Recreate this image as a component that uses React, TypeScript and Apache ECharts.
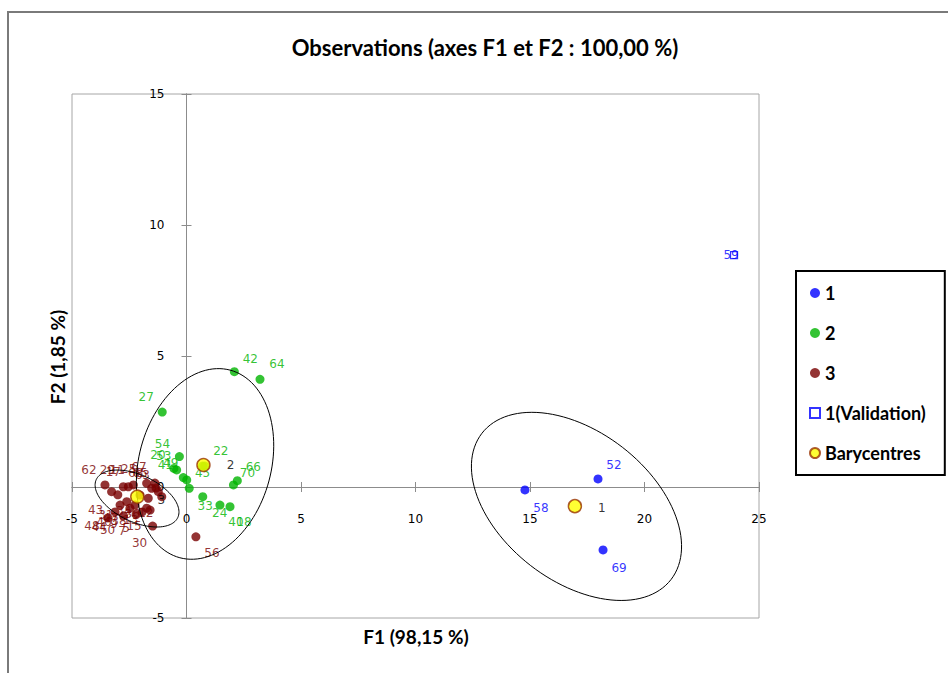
import React, { useEffect, useRef } from 'react';
import * as echarts from 'echarts';

// ---- data ----
const class1Points: [number, number, string][] = [
  [14.78, -0.11, '58'],
  [17.97, 0.31, '52'],
  [18.19, -2.4, '69'],
];

const class2Points: [number, number, string][] = [
  [2.09, 4.4, '42'],
  [3.21, 4.11, '64'],
  [-1.06, 2.86, '27'],
  [-0.31, 1.16, '54'],
  [-0.55, 0.71, '20'],
  [-0.43, 0.65, '53'],
  [-0.14, 0.36, '41'],
  [0.01, 0.27, '49'],
  [0.12, -0.05, '33'],
  [0.71, -0.37, '24'],
  [1.46, -0.69, '40'],
  [1.9, -0.75, '18'],
  [2.05, 0.08, '70'],
  [2.22, 0.24, '66'],
  [0.8, 0.8, '22'],
  [0.7, 0.8, '45'],
];

const class3Points: [number, number, string][] = [
  [-3.56, 0.08, '62'],
  [-2.76, 0.01, '29'],
  [-2.54, 0.01, '17'],
  [-1.74, 0.14, '25'],
  [-1.38, 0.15, '67'],
  [-1.33, -0.04, '65'],
  [-1.23, -0.18, '63'],
  [-3.27, -0.18, '43'],
  [-1.08, -0.37, '12'],
  [-1.48, -1.49, '30'],
  [0.41, -1.9, '56'],
  [-2.9, -0.69, '46'],
  [-1.74, -0.81, '13'],
  [-1.59, -0.88, '15'],
  [-2.47, -0.81, '9'],
  [-2.61, -0.56, '47'],
  [-1.67, -0.43, '36'],
  [-2.32, 0.08, '11'],
  [-1.52, -0.05, '68'],
  [-2.03, -0.31, '34'],
  [-2.25, -0.69, '38'],
  [-1.94, -0.95, '5'],
  [-3.12, -0.95, '44'],
  [-3.43, -1.18, '48'],
  [-2.75, -1.1, '50'],
  [-2.2, -1.05, '7'],
  [-3.0, -0.3, '31'],
];

const validationPoints: [number, number, string][] = [[23.91, 8.85, '59']];

const barycentres: [number, number, string][] = [
  [16.96, -0.73, '1'],
  [0.74, 0.84, '2'],
  [-2.15, -0.37, '3'],
];

// confidence ellipses: centre and two conjugate semi-axes (data units)
const ellipseCentres: [number, number][] = [
  [17.03, -0.74],
  [0.81, 0.88],
  [-2.16, -0.44],
];
const ellipseAxisU: [number, number][] = [
  [4.13, -2.79],
  [1.1, 3.58],
  [1.78, -0.725],
];
const ellipseAxisV: [number, number][] = [
  [-2.0, -2.26],
  [2.79, -0.65],
  [-0.43, -0.81],
];

const xTicks = { min: -5, max: 25, interval: 5 };
const yTicks = { min: -5, max: 15, interval: 5 };

// label placement (pixels, relative to the point)
const labelOffsets: Record<string, [number, number]> = {
  '58': [16, 18], '52': [16, -14], '69': [16, 18],
  '42': [16, -13], '64': [17, -15], '27': [-16, -15], '54': [-17, -13],
  '20': [-16, -13], '53': [-13, -14], '41': [-18, -13], '49': [-16, -17],
  '33': [16, 18], '24': [17, 16], '40': [16, 17], '18': [14, 15],
  '70': [14, -12], '66': [16, -14], '22': [16, -15], '45': [0, 7],
  '62': [-16, -15], '29': [-16, -17], '17': [-15, -15], '25': [-18, -14],
  '67': [-16, -16], '65': [-16, -15], '63': [-16, -17], '43': [-16, 18],
  '12': [-16, 16], '30': [-13, 17], '56': [16, 16], '46': [-16, 17],
  '13': [-16, 12], '15': [-16, 16], '9': [-16, 16], '47': [-16, 16],
  '36': [-16, 16], '11': [-16, -15], '68': [-16, -15], '34': [-16, 16],
  '38': [-16, 16], '5': [-16, 16], '44': [-16, 15], '48': [-16, 8],
  '50': [-16, 14], '7': [-14, 16], '31': [-12, 20],
  '59': [-3, 0],
};
const baryOffsets: [number, number][] = [[27, 2], [27, 0], [24, 3]];

const BLUE = '#0000ff';
const GREEN = '#00b400';
const RED = '#780000';
const LABEL_FONT = 'DejaVu Sans';
const TEXT_FONT = 'Lato';

const GRID = { left: 72, top: 94, width: 687, height: 524 };

function toData(points: [number, number, string][]) {
  return points.map(([x, y, n]) => ({
    value: [x, y],
    name: n,
    label: { offset: labelOffsets[n] || [16, -15] },
  }));
}

function pointSeries(name: string, points: [number, number, string][], color: string) {
  return {
    type: 'scatter',
    name,
    data: toData(points),
    symbol: 'circle',
    symbolSize: 9,
    z: 2,
    itemStyle: { color },
    label: {
      show: true,
      position: 'inside',
      formatter: '{b}',
      color,
      fontFamily: LABEL_FONT,
      fontSize: 12,
    },
    emphasis: { disabled: true },
  };
}

export default function App() {
  const ref = useRef<HTMLDivElement>(null);

  useEffect(() => {
    document.body.style.margin = '0';
    if (!ref.current) return;
    const chart = echarts.init(ref.current, null, { renderer: 'svg' });

    const axisLineColor = '#8c8c8c';
    // shift the axes from the grid edges onto the zero lines
    const xOffset = -((0 - yTicks.min) / (yTicks.max - yTicks.min)) * GRID.height;
    const yOffset = -((0 - xTicks.min) / (xTicks.max - xTicks.min)) * GRID.width;

    const xAxisBase = {
      type: 'value',
      ...xTicks,
      position: 'bottom',
      offset: xOffset,
      axisLine: { onZero: false, lineStyle: { color: axisLineColor } },
      splitLine: { show: false },
    };
    const yAxisBase = {
      type: 'value',
      ...yTicks,
      position: 'left',
      offset: yOffset,
      axisLine: { onZero: false, lineStyle: { color: axisLineColor } },
      splitLine: { show: false },
    };

    const option: any = {
      animation: false,
      backgroundColor: '#ffffff',
      grid: {
        ...GRID,
        show: true,
        borderColor: '#a6a6a6',
        borderWidth: 1,
        backgroundColor: 'transparent',
      },
      xAxis: [
        {
          ...xAxisBase,
          axisTick: { show: true, length: 5, lineStyle: { color: axisLineColor } },
          axisLabel: { margin: 26, color: '#000', fontFamily: LABEL_FONT, fontSize: 12 },
        },
        {
          ...xAxisBase,
          axisTick: { show: true, inside: true, length: 5, lineStyle: { color: axisLineColor } },
          axisLabel: { show: false },
        },
      ],
      yAxis: [
        {
          ...yAxisBase,
          axisTick: { show: true, length: 5, lineStyle: { color: axisLineColor } },
          axisLabel: { margin: 22, color: '#000', fontFamily: LABEL_FONT, fontSize: 12 },
        },
        {
          ...yAxisBase,
          axisTick: { show: true, inside: true, length: 5, lineStyle: { color: axisLineColor } },
          axisLabel: { show: false },
        },
      ],
      legend: {
        orient: 'vertical',
        left: 796,
        top: 271,
        padding: [13, 19, 13, 13],
        itemGap: 22,
        itemWidth: 10,
        itemHeight: 10,
        borderColor: '#000',
        borderWidth: 2,
        backgroundColor: '#fff',
        selectedMode: false,
        textStyle: { fontFamily: TEXT_FONT, fontSize: 18, fontWeight: 'bold', color: '#000' },
        data: [
          { name: '1', icon: 'circle' },
          { name: '2', icon: 'circle' },
          { name: '3', icon: 'circle' },
          { name: '1(Validation)', icon: 'rect' },
          { name: 'Barycentres', icon: 'circle' },
        ],
      },
      graphic: [
        {
          type: 'rect',
          shape: { x: 8, y: 12, width: 1000, height: 720 },
          style: { fill: 'none', stroke: '#7a7a7a', lineWidth: 2 },
          silent: true,
        },
        {
          type: 'text',
          x: 485,
          y: 47,
          style: {
            text: 'Observations (axes F1 et F2 : 100,00 %)',
            align: 'center',
            verticalAlign: 'middle',
            fontFamily: TEXT_FONT,
            fontSize: 22,
            fontWeight: 'bold',
            fill: '#000',
          },
        },
        {
          type: 'text',
          x: 416,
          y: 636,
          style: {
            text: 'F1 (98,15 %)',
            align: 'center',
            verticalAlign: 'middle',
            fontFamily: TEXT_FONT,
            fontSize: 19,
            fontWeight: 'bold',
            fill: '#000',
          },
        },
        {
          type: 'text',
          x: 57,
          y: 357,
          rotation: Math.PI / 2,
          style: {
            text: 'F2 (1,85 %)',
            align: 'center',
            verticalAlign: 'middle',
            fontFamily: TEXT_FONT,
            fontSize: 19,
            fontWeight: 'bold',
            fill: '#000',
          },
        },
      ],
      series: [
        pointSeries('1', class1Points, BLUE),
        pointSeries('2', class2Points, GREEN),
        pointSeries('3', class3Points, RED),
        {
          type: 'scatter',
          name: '1(Validation)',
          data: toData(validationPoints),
          symbol: 'rect',
          symbolSize: 7,
          z: 2,
          itemStyle: { color: '#ffffff', borderColor: BLUE, borderWidth: 1.2 },
          label: {
            show: true,
            position: 'inside',
            formatter: '{b}',
            color: BLUE,
            fontFamily: LABEL_FONT,
            fontSize: 12,
          },
          emphasis: { disabled: true },
        },
        {
          type: 'custom',
          name: 'ellipses',
          coordinateSystem: 'cartesian2d',
          silent: true,
          z: 3,
          encode: { x: 0, y: 1 },
          data: ellipseCentres.map((c, i) => [c[0], c[1], i]),
          renderItem: (params: any, api: any) => {
            const i = api.value(2);
            const c = ellipseCentres[i];
            const u = ellipseAxisU[i];
            const v = ellipseAxisV[i];
            const pts: number[][] = [];
            const n = 120;
            for (let k = 0; k <= n; k++) {
              const t = (k / n) * Math.PI * 2;
              const ct = Math.cos(t);
              const st = Math.sin(t);
              pts.push(api.coord([c[0] + u[0] * ct + v[0] * st, c[1] + u[1] * ct + v[1] * st]));
            }
            return {
              type: 'polyline',
              shape: { points: pts },
              style: { fill: 'none', stroke: '#000', lineWidth: 1 },
            };
          },
        },
        {
          type: 'scatter',
          name: 'Barycentres',
          data: barycentres.map(([x, y, n], i) => ({
            value: [x, y],
            name: n,
            label: { offset: baryOffsets[i] },
          })),
          symbol: 'circle',
          symbolSize: 13,
          z: 4,
          itemStyle: { color: '#ffff00', borderColor: '#993300', borderWidth: 1.5 },
          label: {
            show: true,
            position: 'inside',
            formatter: '{b}',
            color: '#000',
            fontFamily: LABEL_FONT,
            fontSize: 12,
          },
          emphasis: { disabled: true },
        },
      ],
    };

    chart.setOption(option);
    return () => chart.dispose();
  }, []);

  return <div ref={ref} style={{ width: 948, height: 673 }} />;
}
